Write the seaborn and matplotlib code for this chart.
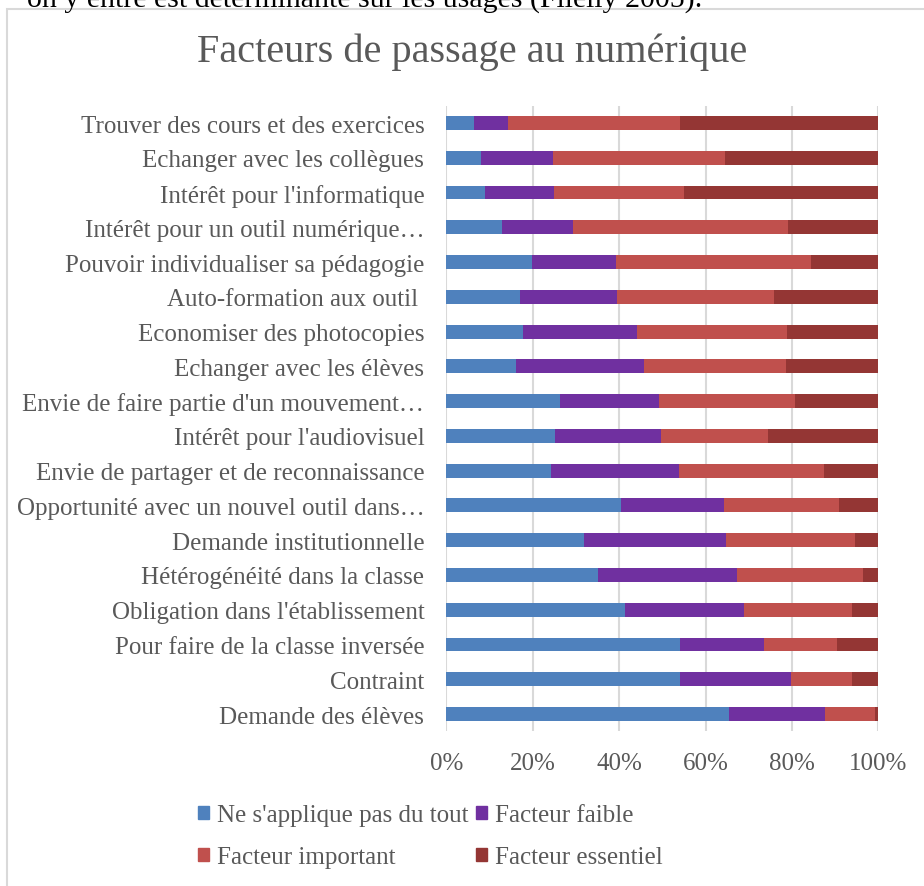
import numpy as np
import pandas as pd
import matplotlib
matplotlib.use("Agg")
import matplotlib.pyplot as plt
from matplotlib.patches import Rectangle
import seaborn as sns

# --- Data (percent of respondents) ---
categories = [
    "Trouver des cours et des exercices",
    "Echanger avec les collègues",
    "Intérêt pour l'informatique",
    "Intérêt pour un outil numérique…",
    "Pouvoir individualiser sa pédagogie",
    "Auto-formation aux outil ",
    "Economiser des photocopies",
    "Echanger avec les élèves",
    "Envie de faire partie d'un mouvement…",
    "Intérêt pour l'audiovisuel",
    "Envie de partager et de reconnaissance",
    "Opportunité avec un nouvel outil dans…",
    "Demande institutionnelle",
    "Hétérogénéité dans la classe",
    "Obligation dans l'établissement",
    "Pour faire de la classe inversée",
    "Contraint",
    "Demande des élèves",
]
ne_s_applique = [6.4, 8.0, 9.0, 12.8, 19.7, 17.1, 17.8, 16.0, 26.3, 25.2, 24.1, 40.3, 31.9, 35.1, 41.4, 54.0, 54.1, 65.5]
faible = [7.9, 16.6, 15.9, 16.5, 19.6, 22.4, 26.2, 29.7, 23.0, 24.4, 29.8, 23.9, 32.9, 32.2, 27.6, 19.5, 25.7, 22.1]
important = [39.8, 39.8, 30.2, 49.8, 45.2, 36.4, 34.8, 32.8, 31.3, 24.8, 33.4, 26.6, 29.7, 29.2, 25.0, 17.0, 14.2, 11.6]
essentiel = [45.9, 35.6, 44.9, 20.9, 15.5, 24.1, 21.2, 21.5, 19.4, 25.6, 12.7, 9.2, 5.5, 3.5, 6.0, 9.5, 6.0, 0.8]

series_names = ["Ne s'applique pas du tout", "Facteur faible", "Facteur important", "Facteur essentiel"]
colors = ["#4F81BD", "#7030A0", "#C0504D", "#943634"]

# normalise each row to 100 % and stack
df = pd.DataFrame({
    series_names[0]: ne_s_applique,
    series_names[1]: faible,
    series_names[2]: important,
    series_names[3]: essentiel,
}, index=categories)
df = df.div(df.sum(axis=1), axis=0)
cum = df.cumsum(axis=1)

sns.set_theme(style="white")
plt.rcParams["font.family"] = ["Liberation Serif", "DejaVu Serif"]
TXT = "#595959"

fig = plt.figure(figsize=(9.24, 8.87), dpi=100)
ax = fig.add_axes([0.4832, 0.1743, 0.4674, 0.7055])

# draw the stacks from the right end back to the left
for name, col in reversed(list(zip(series_names, colors))):
    sns.barplot(x=cum[name].values, y=categories, orient="h", color=col,
                saturation=1, width=0.40, linewidth=0, ax=ax, zorder=3)

ax.set_xlim(0, 1)
ax.set_xticks(np.linspace(0, 1, 6))
ax.set_xticklabels([f"{int(v)}%" for v in np.linspace(0, 100, 6)])
ax.grid(axis="x", color="#D9D9D9", linewidth=1.5, zorder=0)
ax.set_axisbelow(True)
for s in ax.spines.values():
    s.set_visible(False)
ax.set_xlabel("")
ax.set_ylabel("")
ax.tick_params(axis="y", length=0, pad=16, labelsize=18, labelcolor=TXT)
ax.tick_params(axis="x", length=0, pad=15, labelsize=18, labelcolor=TXT)

# legend, laid out row by row like the original
handles = [Rectangle((0, 0), 1, 1, color=c) for c in colors]
order = [0, 2, 1, 3]
leg = fig.legend([handles[i] for i in order], [series_names[i] for i in order],
                 ncol=2, loc="center left", bbox_to_anchor=(0.190, 0.056),
                 frameon=False, fontsize=18, handlelength=0.45, handleheight=0.45,
                 handletextpad=0.3, columnspacing=0.3, labelspacing=0.8,
                 labelcolor=TXT)

fig.text(0.511, 1 - 62 / 887, "Facteurs de passage au numérique",
         ha="center", va="baseline", fontsize=29, color=TXT)

# chart frame and the cut-off line of document text above it
fig.add_artist(Rectangle((7 / 924, -0.05), 1.2, 1 - 10 / 887 + 0.05,
                         transform=fig.transFigure, fill=False,
                         edgecolor="#D9D9D9", linewidth=1.5))
fig.text(27 / 924, 1 - 7 / 887, "on y entre est déterminante sur les usages (Filelly 2005).",
         fontsize=21.5, color="black", va="baseline", ha="left")

fig.savefig("out.png", dpi=100)
